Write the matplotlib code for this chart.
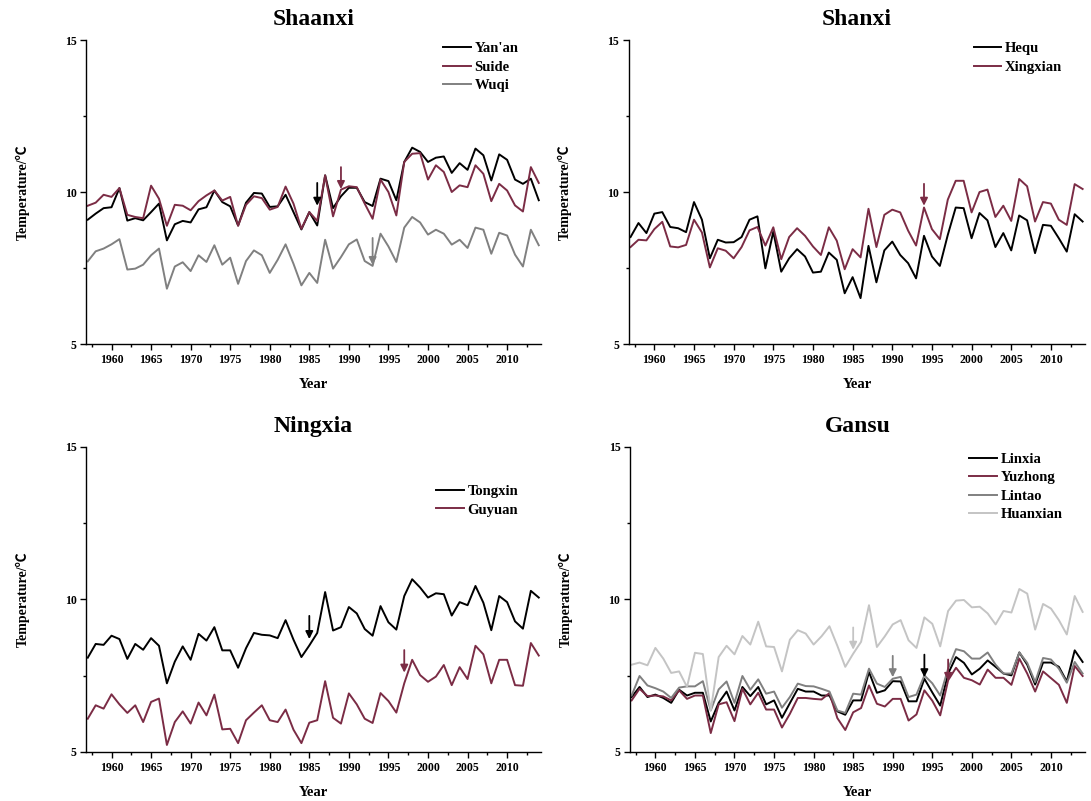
import numpy as np
import matplotlib
matplotlib.use("Agg")
import matplotlib.pyplot as plt
from matplotlib.ticker import MultipleLocator

plt.rcParams['font.family'] = ['Liberation Serif', 'Noto Sans CJK SC', 'DejaVu Sans']
plt.rcParams['font.weight'] = 'bold'

years = np.arange(1957, 2015)

# Shaanxi
yanan = [9.09, 9.29, 9.47, 9.50, 10.13, 9.06, 9.14, 9.07, 9.34, 9.62,
         8.41, 8.94, 9.05, 9.00, 9.43, 9.50, 10.05, 9.67, 9.53, 8.90,
         9.65, 9.97, 9.95, 9.51, 9.53, 9.91, 9.34, 8.77, 9.34, 8.90,
         10.55, 9.47, 9.86, 10.14, 10.14, 9.67, 9.54, 10.44, 10.36, 9.73,
         10.99, 11.46, 11.32, 10.99, 11.13, 11.17, 10.63, 10.95, 10.73, 11.43,
         11.21, 10.38, 11.24, 11.06, 10.41, 10.27, 10.44, 9.73]
suide = [9.55, 9.65, 9.91, 9.84, 10.13, 9.25, 9.18, 9.14, 10.21, 9.78,
         8.89, 9.58, 9.55, 9.40, 9.70, 9.89, 10.05, 9.72, 9.84, 8.89,
         9.58, 9.86, 9.80, 9.42, 9.51, 10.18, 9.62, 8.79, 9.34, 9.05,
         10.55, 9.20, 10.08, 10.19, 10.16, 9.62, 9.12, 10.41, 10.00, 9.23,
         10.99, 11.26, 11.28, 10.41, 10.88, 10.66, 10.00, 10.22, 10.16, 10.88,
         10.60, 9.70, 10.27, 10.05, 9.56, 9.36, 10.82, 10.30]
wuqi = [7.72, 8.05, 8.14, 8.28, 8.45, 7.45, 7.48, 7.61, 7.92, 8.14,
        6.82, 7.55, 7.69, 7.40, 7.92, 7.70, 8.25, 7.61, 7.84, 6.98,
        7.73, 8.08, 7.92, 7.34, 7.77, 8.28, 7.64, 6.93, 7.34, 7.01,
        8.43, 7.48, 7.86, 8.28, 8.44, 7.73, 7.57, 8.63, 8.21, 7.70,
        8.83, 9.18, 9.00, 8.60, 8.76, 8.63, 8.27, 8.43, 8.16, 8.83,
        8.76, 7.97, 8.66, 8.57, 7.94, 7.55, 8.76, 8.25]

# Shanxi
hequ = [8.52, 8.98, 8.65, 9.29, 9.34, 8.85, 8.81, 8.68, 9.67, 9.09,
        7.82, 8.43, 8.34, 8.35, 8.52, 9.09, 9.20, 7.49, 8.70, 7.38,
        7.82, 8.12, 7.88, 7.35, 7.38, 8.01, 7.77, 6.67, 7.20, 6.51,
        8.23, 7.03, 8.08, 8.37, 7.93, 7.66, 7.16, 8.56, 7.88, 7.57,
        8.59, 9.49, 9.47, 8.48, 9.31, 9.07, 8.19, 8.65, 8.08, 9.23,
        9.07, 7.99, 8.92, 8.89, 8.48, 8.04, 9.27, 9.03]
xingxian = [8.19, 8.43, 8.41, 8.78, 9.02, 8.21, 8.18, 8.26, 9.09, 8.67,
            7.52, 8.15, 8.07, 7.82, 8.19, 8.74, 8.85, 8.24, 8.84, 7.79,
            8.52, 8.81, 8.56, 8.21, 7.93, 8.84, 8.40, 7.46, 8.12, 7.85,
            9.45, 8.19, 9.25, 9.42, 9.33, 8.73, 8.24, 9.49, 8.78, 8.45,
            9.75, 10.37, 10.37, 9.33, 10.00, 10.08, 9.18, 9.55, 9.05, 10.43,
            10.19, 9.03, 9.67, 9.62, 9.09, 8.92, 10.26, 10.10]

# Ningxia
tongxin = [8.09, 8.54, 8.51, 8.81, 8.70, 8.05, 8.54, 8.35, 8.73, 8.48,
           7.25, 7.96, 8.46, 8.02, 8.87, 8.65, 9.09, 8.33, 8.33, 7.76,
           8.40, 8.90, 8.84, 8.82, 8.73, 9.32, 8.68, 8.11, 8.49, 8.90,
           10.24, 8.98, 9.09, 9.75, 9.54, 9.03, 8.81, 9.78, 9.25, 9.01,
           10.11, 10.66, 10.39, 10.06, 10.20, 10.17, 9.47, 9.91, 9.81, 10.44,
           9.89, 8.99, 10.11, 9.91, 9.28, 9.04, 10.28, 10.06]
guyuan = [6.09, 6.53, 6.42, 6.89, 6.56, 6.28, 6.53, 5.98, 6.64, 6.75,
          5.23, 5.98, 6.33, 5.93, 6.62, 6.20, 6.88, 5.74, 5.76, 5.29,
          6.04, 6.29, 6.53, 6.04, 5.98, 6.39, 5.73, 5.29, 5.96, 6.04,
          7.32, 6.12, 5.93, 6.92, 6.56, 6.09, 5.95, 6.93, 6.67, 6.29,
          7.25, 8.02, 7.52, 7.30, 7.47, 7.85, 7.19, 7.78, 7.39, 8.48,
          8.20, 7.25, 8.02, 8.02, 7.19, 7.17, 8.57, 8.16]

# Gansu
linxia = [6.80, 7.13, 6.80, 6.88, 6.77, 6.61, 7.04, 6.85, 6.94, 6.94,
          6.00, 6.61, 6.98, 6.36, 7.13, 6.83, 7.13, 6.56, 6.69, 6.12,
          6.60, 7.07, 6.98, 6.98, 6.85, 6.85, 6.33, 6.22, 6.69, 6.69,
          7.62, 6.94, 7.02, 7.32, 7.31, 6.66, 6.66, 7.40, 6.95, 6.52,
          7.57, 8.11, 7.92, 7.54, 7.73, 8.00, 7.79, 7.57, 7.51, 8.26,
          7.86, 7.21, 7.93, 7.93, 7.79, 7.31, 8.33, 7.95]
yuzhong = [6.69, 7.07, 6.83, 6.85, 6.82, 6.69, 7.02, 6.74, 6.85, 6.85,
           5.62, 6.56, 6.63, 6.01, 7.07, 6.56, 6.94, 6.39, 6.39, 5.80,
           6.25, 6.77, 6.77, 6.74, 6.72, 6.93, 6.11, 5.72, 6.30, 6.44,
           7.18, 6.58, 6.49, 6.74, 6.74, 6.03, 6.23, 7.02, 6.68, 6.20,
           7.35, 7.76, 7.43, 7.35, 7.21, 7.70, 7.43, 7.43, 7.20, 8.06,
           7.57, 6.98, 7.64, 7.42, 7.20, 6.61, 7.82, 7.49]
lintao = [6.85, 7.49, 7.18, 7.09, 6.98, 6.77, 7.11, 7.15, 7.15, 7.32,
          6.36, 7.05, 7.31, 6.61, 7.49, 7.04, 7.38, 6.91, 6.98, 6.45,
          6.80, 7.24, 7.16, 7.15, 7.07, 6.98, 6.36, 6.28, 6.91, 6.88,
          7.73, 7.24, 7.13, 7.40, 7.46, 6.80, 6.88, 7.51, 7.25, 6.85,
          7.73, 8.37, 8.30, 8.06, 8.06, 8.26, 7.86, 7.57, 7.57, 8.26,
          7.92, 7.29, 8.08, 8.03, 7.73, 7.27, 7.95, 7.57]
huanxian = [7.86, 7.93, 7.84, 8.41, 8.06, 7.59, 7.64, 7.13, 8.25, 8.21,
            6.36, 8.11, 8.48, 8.20, 8.80, 8.52, 9.27, 8.46, 8.44, 7.64,
            8.68, 8.99, 8.88, 8.52, 8.79, 9.12, 8.48, 7.79, 8.22, 8.61,
            9.81, 8.44, 8.79, 9.18, 9.32, 8.66, 8.41, 9.41, 9.20, 8.46,
            9.62, 9.96, 9.98, 9.74, 9.76, 9.54, 9.18, 9.62, 9.57, 10.34,
            10.19, 9.01, 9.85, 9.70, 9.32, 8.85, 10.11, 9.59]

BLACK = '#000000'
RED = '#7b2c45'
GRAY = '#808080'
LGRAY = '#c4c4c4'

# (title, [(name, values, color)], [(change year, arrow top, arrow tip, color)])
panels = [
    ('Shaanxi',
     [("Yan'an", yanan, BLACK), ('Suide', suide, RED), ('Wuqi', wuqi, GRAY)],
     [(1986, 10.30, 9.55, BLACK), (1989, 10.82, 10.10, RED), (1993, 8.49, 7.60, GRAY)]),
    ('Shanxi',
     [('Hequ', hequ, BLACK), ('Xingxian', xingxian, RED)],
     [(1994, 10.27, 9.55, RED)]),
    ('Ningxia',
     [('Tongxin', tongxin, BLACK), ('Guyuan', guyuan, RED)],
     [(1985, 9.46, 8.70, BLACK), (1997, 8.34, 7.60, RED)]),
    ('Gansu',
     [('Linxia', linxia, BLACK), ('Yuzhong', yuzhong, RED),
      ('Lintao', lintao, GRAY), ('Huanxian', huanxian, LGRAY)],
     [(1985, 9.08, 8.35, LGRAY), (1990, 8.15, 7.45, GRAY),
      (1994, 8.19, 7.45, BLACK), (1997, 8.03, 7.33, RED)]),
]

fig = plt.figure(figsize=(10.91, 8.01), dpi=100)
rects = [(0.079, 0.5705, 0.417, 0.3795), (0.5765, 0.5705, 0.418, 0.3795),
         (0.079, 0.0612, 0.417, 0.381), (0.5775, 0.0612, 0.417, 0.381)]
legend_anchor = [(0.963, 1.012), (0.963, 1.012), (0.963, 0.894), (0.963, 0.999)]

for rect, anchor, (title, series, arrows) in zip(rects, legend_anchor, panels):
    ax = fig.add_axes(rect)
    for name, vals, c in series:
        ax.plot(years, vals, color=c, lw=1.4, label=name)
    for yr, top, tip, c in arrows:
        ax.annotate('', xy=(yr, tip), xytext=(yr, top),
                    arrowprops=dict(arrowstyle='-|>', color=c, lw=1.3,
                                    mutation_scale=11, shrinkA=0, shrinkB=0))
    ax.set_xlim(1956.8, 2014.3)
    ax.set_ylim(5, 15)
    ax.set_yticks([5, 10, 15])
    ax.yaxis.set_minor_locator(MultipleLocator(2.5))
    ax.set_xticks(range(1960, 2011, 5))
    ax.xaxis.set_minor_locator(MultipleLocator(2.5))
    ax.tick_params(which='major', direction='out', length=4, width=1, labelsize=8.5, pad=3)
    ax.tick_params(which='minor', direction='out', length=2.5, width=1)
    for s in ['top', 'right']:
        ax.spines[s].set_visible(False)
    for s in ['left', 'bottom']:
        ax.spines[s].set_linewidth(1)
    for lab in ax.get_xticklabels() + ax.get_yticklabels():
        lab.set_fontweight('bold')
    ax.set_xlabel('Year', fontsize=10.5, fontweight='bold')
    ax.xaxis.set_label_coords(0.5, -0.112)
    ax.set_ylabel('Temperature/℃', fontsize=10, fontweight='bold')
    ax.yaxis.set_label_coords(-0.125, 0.5)
    ax.text(0.5, 1.068, title, transform=ax.transAxes, ha='center', va='center',
            fontsize=17, fontweight='bold')
    leg = ax.legend(loc='upper right', bbox_to_anchor=anchor, frameon=False,
                    fontsize=10.5, handlelength=1.9, handletextpad=0.25,
                    labelspacing=0.35, borderaxespad=0)
    for t in leg.get_texts():
        t.set_fontweight('bold')

fig.savefig('out.png', dpi=100)
